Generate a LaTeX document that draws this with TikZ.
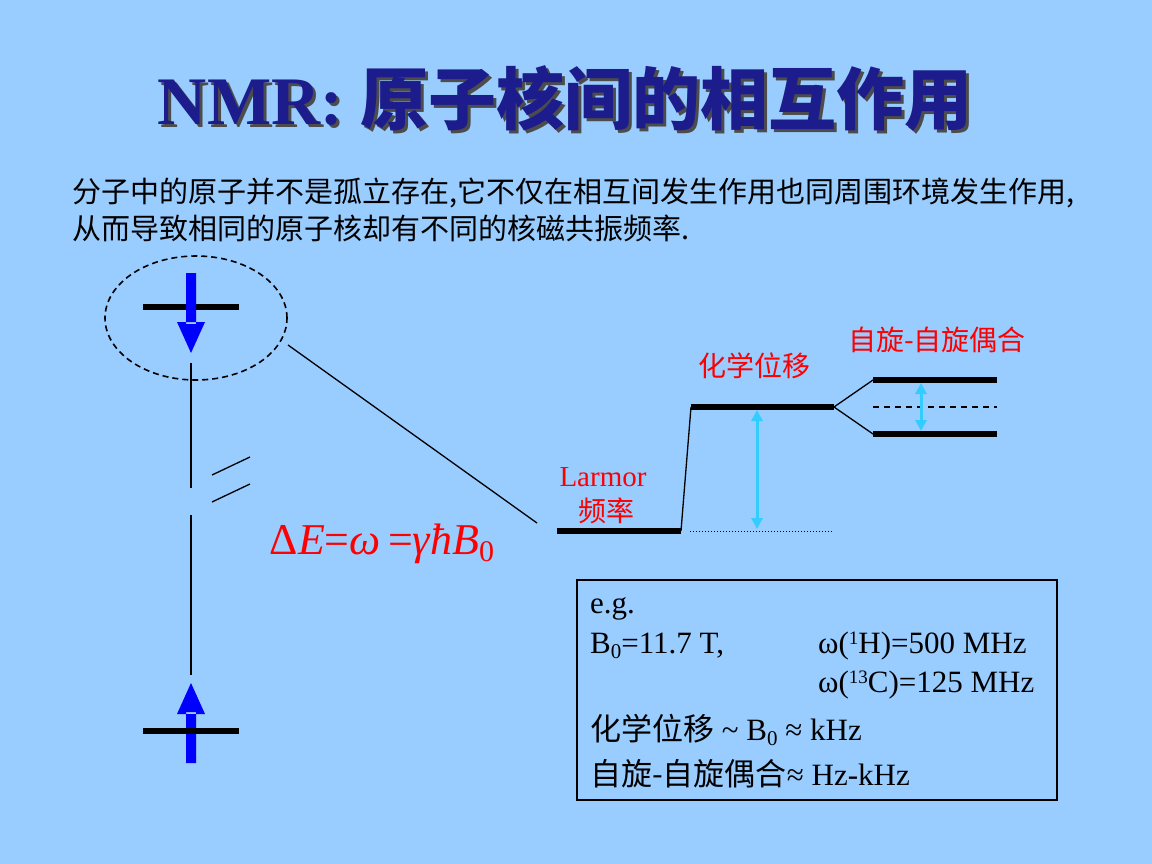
\documentclass[tikz,border=0pt]{standalone}
\usepackage{fontspec}
\setmainfont{Liberation Serif}
\newfontfamily\cjk{Noto Sans CJK SC}
\newfontfamily\cjkb{Noto Sans CJK SC Bold}
\usetikzlibrary{arrows.meta,shapes.geometric}
\definecolor{bg}{HTML}{99CCFF}
\definecolor{navy}{HTML}{1C1C8C}
\definecolor{cyanarr}{HTML}{33CCFF}
\begin{document}
\begin{tikzpicture}[x=1pt,y=-1pt,
  lvl/.style={line width=6pt},
  cyarr/.style={cyanarr,line width=3pt,{Triangle[width=11pt,length=11pt]}-{Triangle[width=11pt,length=11pt]}},
  redlab/.style={red,font=\cjk\fontsize{28}{32}\selectfont,inner sep=0pt},
  boxt/.style={anchor=west,inner sep=0pt,font=\fontsize{31}{34}\selectfont}]
\fill[bg] (0,0) rectangle (1152,864);
\useasboundingbox (0,0) rectangle (1152,864);
% title
\node[black!70,font=\fontsize{68}{72}\selectfont\bfseries] at (568,101) {NMR: {\cjkb 原子核间的相互作用}};
\node[navy,font=\fontsize{68}{72}\selectfont\bfseries] (title) at (565,98) {NMR: {\cjkb 原子核间的相互作用}};
\node[anchor=west,inner sep=0pt,font=\cjk\fontsize{29}{32}\selectfont] (l1) at (72,193) {分子中的原子并不是孤立存在,它不仅在相互间发生作用也同周围环境发生作用,};
\node[anchor=west,inner sep=0pt,font=\cjk\fontsize{29}{32}\selectfont] (l2) at (72,228) {从而导致相同的原子核却有不同的核磁共振频率.};
% ellipse
\node[draw,dash pattern=on 6pt off 4pt,line width=1.6pt,ellipse,minimum width=182pt,minimum height=124pt,inner sep=0pt] (ell) at (196,318) {};
\draw[lvl] (143,307) -- (239,307);
\fill[blue] (186,273) rectangle (196,324) (177,322) -- (205,322) -- (191,353) -- cycle;
\draw[line width=1.3pt] (191,363) -- (191,488) (191,515) -- (191,675);
\draw[line width=1.3pt] (212,475) -- (250,457) (212,502) -- (250,484);
\fill[blue] (186,763) rectangle (196,712) (177,714) -- (205,714) -- (191,683) -- cycle;
\draw[lvl] (143,731) -- (239,731);
\coordinate (z1) at (288,345); \coordinate (z2) at (537,523);
\draw[line width=1.3pt] (z1) -- (z2);
\node[red,font=\fontsize{44}{48}\selectfont,inner sep=0pt] (form) at (382,544) {Δ\textit{E}=\textit{ω}\,=\textit{γħB}\raisebox{-7pt}{\fontsize{30}{32}\selectfont 0}};
% levels
\coordinate (a1) at (557,531); \coordinate (a2) at (681,531);
\coordinate (b1) at (691,407); \coordinate (b2) at (834,407);
\draw[lvl] (a1) -- (a2);
\draw[line width=1.3pt] (a2) -- (b1);
\draw[lvl] (b1) -- (b2);
\draw[line width=1pt,dotted] (690,531) -- (833,531);
\draw[cyarr] (757,410) -- (757,529);
\coordinate (c1) at (873,380); \coordinate (c2) at (873,434);
\draw[line width=1.3pt] (b2) -- (c1) (b2) -- (c2);
\draw[lvl] (c1) -- (997,380);
\draw[lvl] (c2) -- (997,434);
\draw[line width=1.3pt,dash pattern=on 6pt off 5pt] (873,407) -- (997,407);
\draw[cyarr] (921,383) -- (921,431);
\node[redlab,font=\fontsize{29}{32}\selectfont] (lar) at (603,477) {Larmor};
\node[redlab] (pl) at (606,511) {频率};
\node[redlab] (cs) at (754,366) {化学位移};
\node[redlab] (jc) at (937,340) {自旋-自旋偶合};
% box
\draw[line width=1.3pt] (577,580) rectangle (1057,800);
\node[boxt] at (590,609) {e.g.};
\node[boxt] at (590,646) {B\raisebox{-5pt}{\fontsize{21}{24}\selectfont 0}=11.7 T,};
\node[boxt] at (818,646) {ω(\raisebox{9pt}{\fontsize{19}{22}\selectfont 1}H)=500 MHz};
\node[boxt] at (818,685) {ω(\raisebox{9pt}{\fontsize{19}{22}\selectfont 13}C)=125 MHz};
\node[boxt] at (590,730) {{\cjk 化学位移} \textasciitilde{} B\raisebox{-5pt}{\fontsize{21}{24}\selectfont 0} ≈ kHz};
\node[boxt] at (590,774) {{\cjk 自旋-自旋偶合}≈ Hz-kHz};
\end{tikzpicture}
\end{document}
